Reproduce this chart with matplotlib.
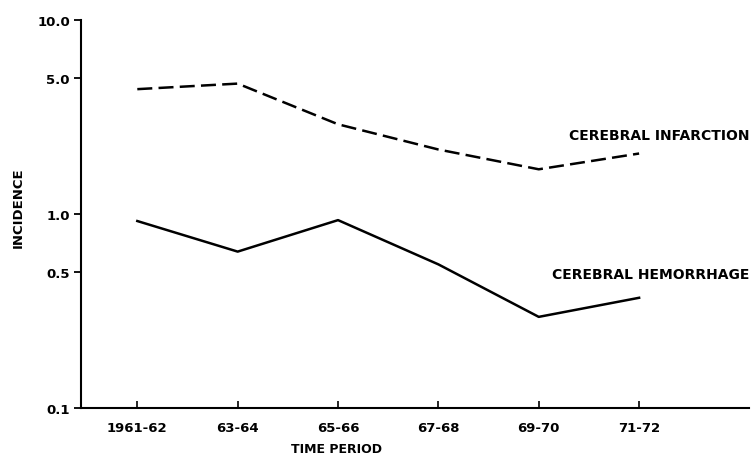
import numpy as np
import matplotlib
matplotlib.use('Agg')
import matplotlib.pyplot as plt
from matplotlib.ticker import FixedLocator, NullLocator, NullFormatter

periods = ['1961-62', '63-64', '65-66', '67-68', '69-70', '71-72']
infarction = [4.4, 4.7, 2.9, 2.15, 1.7, 2.05]
hemorrhage = [0.92, 0.64, 0.93, 0.55, 0.295, 0.37]
yticks = [0.1, 0.5, 1.0, 5.0, 10.0]
ylabels = ['0.1', '0.5', '1.0', '5.0', '10.0']

plt.rcParams['font.family'] = ['DejaVu Sans']
plt.rcParams['font.weight'] = 'bold'
fs = 9.5

fig = plt.figure(figsize=(7.51, 4.56), dpi=100)
ax = fig.add_axes([0.108, 0.103, 0.89, 0.851])

x = np.arange(len(periods))
ax.plot(x, infarction, color='black', lw=1.8, linestyle=(0, (6, 2.5)))
ax.plot(x, hemorrhage, color='black', lw=1.8)

ax.set_yscale('log')
ax.set_ylim(0.1, 10.0)
ax.set_xlim(-0.56, 6.1)
ax.yaxis.set_major_locator(FixedLocator(yticks))
ax.set_yticklabels(ylabels)
ax.yaxis.set_minor_locator(NullLocator())
ax.yaxis.set_minor_formatter(NullFormatter())
ax.set_xticks(x)
ax.set_xticklabels(periods)

for s in ['top', 'right']:
    ax.spines[s].set_visible(False)
for s in ['left', 'bottom']:
    ax.spines[s].set_linewidth(1.5)

ax.tick_params(axis='y', direction='out', length=5, width=1.3, labelsize=fs, pad=3)
ax.tick_params(axis='x', direction='in', length=5, width=1.2, labelsize=fs, pad=9)

ax.set_ylabel('INCIDENCE', fontsize=fs, fontweight='bold')
ax.set_xlabel('TIME PERIOD', fontsize=9, fontweight='bold')
ax.xaxis.set_label_coords((337 - 81) / 669, -0.088)
ax.yaxis.set_label_coords(-0.085, 0.52)

ax.text(6.1, 2.55, 'CEREBRAL INFARCTION', ha='right', va='center', fontsize=10, fontweight='bold')
ax.text(6.1, 0.49, 'CEREBRAL HEMORRHAGE', ha='right', va='center', fontsize=10, fontweight='bold')

fig.savefig('out.png', dpi=100)
